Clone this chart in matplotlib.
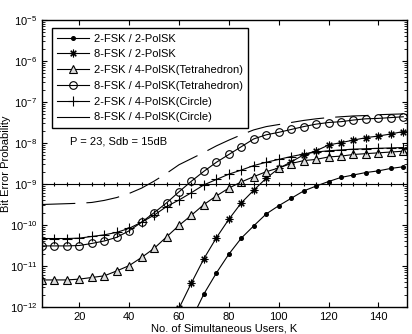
import numpy as np
import matplotlib
matplotlib.use("Agg")
import matplotlib.pyplot as plt

plt.rcParams['font.family'] = ['Liberation Sans', 'DejaVu Sans']
plt.rcParams['mathtext.fontset'] = 'custom'
plt.rcParams['mathtext.rm'] = 'Liberation Sans'
plt.rcParams['lines.scale_dashes'] = False

# number of simultaneous users
K = list(range(5, 155, 5))

# log10 of bit error probability
fsk2_pol2 = [None] * 12 + [-12.30, -11.68, -11.17, -10.71, -10.32, -10.02, -9.73, -9.53,
                           -9.35, -9.17, -9.05, -8.94, -8.84, -8.78, -8.72, -8.68, -8.62, -8.58]
fsk8_pol2 = [None] * 11 + [-12.03, -11.41, -10.82, -10.31, -9.86, -9.46, -9.15, -8.86, -8.62,
                           -8.46, -8.29, -8.19, -8.05, -7.99, -7.93, -7.87, -7.83, -7.78, -7.72]
fsk2_tetra = [-11.34, -11.34, -11.34, -11.32, -11.28, -11.24, -11.12, -10.99, -10.79, -10.57,
              -10.29, -10.01, -9.76, -9.50, -9.29, -9.10, -8.95, -8.82, -8.70, -8.61,
              -8.50, -8.43, -8.40, -8.34, -8.32, -8.28, -8.26, -8.24, -8.22, -8.20]
fsk8_tetra = [-10.51, -10.51, -10.51, -10.50, -10.45, -10.39, -10.30, -10.14, -9.93, -9.70,
              -9.46, -9.19, -8.93, -8.69, -8.47, -8.28, -8.09, -7.90, -7.80, -7.74,
              -7.67, -7.60, -7.54, -7.50, -7.48, -7.44, -7.41, -7.40, -7.38, -7.36]
fsk2_circ = [-10.33, -10.33, -10.33, -10.32, -10.28, -10.24, -10.18, -10.08, -9.93, -9.76,
             -9.55, -9.39, -9.21, -9.02, -8.89, -8.76, -8.66, -8.55, -8.47, -8.40,
             -8.33, -8.27, -8.22, -8.19, -8.17, -8.15, -8.14, -8.13, -8.12, -8.11]
fsk8_circ = [-9.50, -9.49, -9.48, -9.47, -9.45, -9.40, -9.33, -9.23, -9.10, -8.93,
             -8.74, -8.53, -8.38, -8.23, -8.07, -7.93, -7.80, -7.68, -7.60, -7.55,
             -7.50, -7.45, -7.41, -7.38, -7.36, -7.34, -7.33, -7.31, -7.30, -7.29]
threshold = -9.0

labels = ['2-FSK / 2-PolSK', '8-FSK / 2-PolSK', '2-FSK / 4-PolSK(Tetrahedron)',
          '8-FSK / 4-PolSK(Tetrahedron)', '2-FSK / 4-PolSK(Circle)', '8-FSK / 4-PolSK(Circle)']


def ber(vals):
    return np.array([np.nan if v is None else 10.0 ** v for v in vals])


fig = plt.figure(figsize=(4.12, 3.34), dpi=100)
ax = fig.add_axes([42 / 412, 1 - 307 / 334, 365 / 412, 287 / 334])

lw = 0.8
ax.plot(K, ber(fsk2_pol2), '-', color='k', lw=lw, marker='o', ms=2.6, mfc='k', label=labels[0])
ax.plot(K, ber(fsk8_pol2), '-', color='k', lw=lw, marker=(8, 2, 0), ms=5.5, mew=0.8, label=labels[1])
ax.plot(K, ber(fsk2_tetra), '-', color='k', lw=lw, marker='^', ms=6, mfc='#dcdcdc', mew=0.8, label=labels[2])
ax.plot(K, ber(fsk8_tetra), '-', color='k', lw=lw, marker='o', ms=5.5, mfc='none', mew=0.8, label=labels[3])
ax.plot(K, ber(fsk2_circ), '-', color='k', lw=lw, marker='+', ms=6.5, mew=0.8, label=labels[4])
dash, = ax.plot(K, ber(fsk8_circ), color='k', lw=lw, label=labels[5])
dash.set_dashes((24, 8))
ax.plot(K, [10.0 ** threshold] * len(K), '-', color='k', lw=lw, marker='|', ms=3.5, mew=0.8)

ax.set_yscale('log')
ax.set_xlim(5, 151.5)
ax.set_ylim(1e-12, 1e-5)
ax.set_xticks([20, 40, 60, 80, 100, 120, 140])
ax.set_yticks([10.0 ** e for e in range(-12, -4)])
ax.set_yticklabels([r'$\mathregular{10^{%d}}$' % e for e in range(-12, -4)])
ax.tick_params(which='both', direction='in', top=True, right=True, labelsize=8)
ax.tick_params(which='major', length=3.5, width=0.8)
ax.tick_params(which='minor', length=2, width=0.6)
for s in ax.spines.values():
    s.set_linewidth(1.0)

ax.set_xlabel('No. of Simultaneous Users, K', fontsize=8, labelpad=1)
ax.set_ylabel('Bit Error Probability', fontsize=8)
ax.yaxis.set_label_coords(-31 / 365, 0.5)

ax.text(0.077, 0.578, 'P = 23, Sdb = 15dB', transform=ax.transAxes, fontsize=8, va='center')

leg = ax.legend(loc='upper left', bbox_to_anchor=(0.027, 0.972), borderaxespad=0,
                fontsize=8, numpoints=1, handlelength=2.8, handletextpad=0.45,
                labelspacing=0.52, borderpad=0.5, fancybox=False, framealpha=1,
                edgecolor='k')
leg.get_frame().set_linewidth(1.0)
leg.get_lines()[5].set_linestyle('-')

fig.savefig('out.png', dpi=100)
